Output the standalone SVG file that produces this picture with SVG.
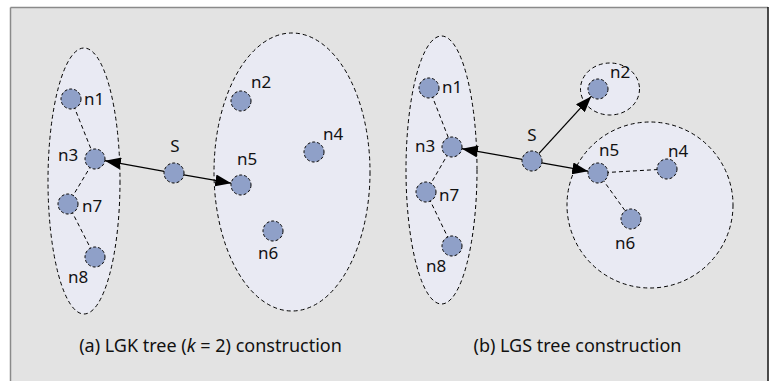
<svg xmlns="http://www.w3.org/2000/svg" width="773" height="381" viewBox="0 0 773 381">
<style>
.region{fill:#e9eaf3;stroke:#000;stroke-width:1;stroke-dasharray:4 3}
.node{fill:#8fa0c8;stroke:#000;stroke-width:1;stroke-dasharray:3 2}
.tree{stroke:#000;stroke-width:1;stroke-dasharray:4 3;fill:none}
.arrow{stroke:#000;stroke-width:1.3;fill:none;marker-end:url(#ah)}
text{font-family:"Noto Sans","Open Sans","DejaVu Sans",sans-serif;font-size:17px;fill:#111}
.cap{text-anchor:middle}
.caption{font-size:18px}
</style>
<defs>
<marker id="ah" markerUnits="userSpaceOnUse" markerWidth="17" markerHeight="12" refX="16" refY="6" orient="auto">
<path d="M0,0 L16,6 L0,12 z" fill="#000"/>
</marker>
</defs>
<rect x="0" y="0" width="773" height="381" fill="#fff"/>
<rect x="10.5" y="7.5" width="757" height="380" fill="#e3e3e3"/>
<line x1="10.5" y1="7.5" x2="768" y2="7.5" stroke="#8a8a8a" stroke-width="1.5"/>
<line x1="10.5" y1="7.5" x2="10.5" y2="381" stroke="#8a8a8a" stroke-width="1.5"/>
<line x1="768" y1="7" x2="768" y2="381" stroke="#111" stroke-width="1.5"/>

<g id="regions">
<ellipse id="rA1" class="region" cx="84" cy="181" rx="36" ry="133"/>
<ellipse id="rA2" class="region" cx="292" cy="172" rx="78" ry="139"/>
<ellipse id="rB1" class="region" cx="441.5" cy="170" rx="35.5" ry="134"/>
<ellipse id="rB2" class="region" cx="610" cy="89" rx="29.5" ry="26"/>
<circle id="rB3" class="region" cx="650" cy="205" r="83"/>
</g>

<g id="connectors">
<line class="tree" x1="71" y1="99" x2="95" y2="159"/>
<line class="tree" x1="95" y1="159" x2="68" y2="204"/>
<line class="tree" x1="68" y1="204" x2="95" y2="257"/>
<line class="arrow" x1="164.2" y1="171.3" x2="104.9" y2="160.7"/>
<line class="arrow" x1="183.8" y1="174.8" x2="231.2" y2="183.2"/>

<line class="tree" x1="429" y1="88" x2="452" y2="147"/>
<line class="tree" x1="452" y1="147" x2="426" y2="192"/>
<line class="tree" x1="426" y1="192" x2="452" y2="246"/>
<line class="tree" x1="598" y1="173" x2="667" y2="169"/>
<line class="tree" x1="598" y1="173" x2="631" y2="219"/>
<line class="arrow" x1="522.1" y1="159.3" x2="461.9" y2="148.7"/>
<line class="arrow" x1="538.8" y1="153.6" x2="591.2" y2="96.4"/>
<line class="arrow" x1="541.8" y1="162.8" x2="588.2" y2="171.2"/>
</g>

<g id="a-n1"><circle class="node" cx="71" cy="99" r="10"/><text x="84" y="105">n1</text></g>
<g id="a-n3"><circle class="node" cx="95" cy="159" r="10"/><text x="58" y="161">n3</text></g>
<g id="a-n7"><circle class="node" cx="68" cy="204" r="10"/><text x="82" y="212">n7</text></g>
<g id="a-n8"><circle class="node" cx="95" cy="257" r="10"/><text x="68" y="283">n8</text></g>
<g id="a-S"><circle class="node" cx="174" cy="173" r="10"/><text x="175" y="152" class="cap">S</text></g>
<g id="a-n2"><circle class="node" cx="241" cy="101" r="10"/><text x="251" y="88">n2</text></g>
<g id="a-n4"><circle class="node" cx="314" cy="152" r="10"/><text x="323" y="140">n4</text></g>
<g id="a-n5"><circle class="node" cx="241" cy="185" r="10"/><text x="237" y="165">n5</text></g>
<g id="a-n6"><circle class="node" cx="273" cy="231" r="10"/><text x="258" y="259">n6</text></g>

<g id="b-n1"><circle class="node" cx="429" cy="88" r="10"/><text x="442" y="93">n1</text></g>
<g id="b-n3"><circle class="node" cx="452" cy="147" r="10"/><text x="415" y="152">n3</text></g>
<g id="b-n7"><circle class="node" cx="426" cy="192" r="10"/><text x="439" y="201">n7</text></g>
<g id="b-n8"><circle class="node" cx="452" cy="246" r="10"/><text x="426" y="272">n8</text></g>
<g id="b-S"><circle class="node" cx="532" cy="161" r="10"/><text x="532" y="141" class="cap">S</text></g>
<g id="b-n2"><circle class="node" cx="598" cy="89" r="10"/><text x="610" y="78">n2</text></g>
<g id="b-n5"><circle class="node" cx="598" cy="173" r="10"/><text x="599" y="156">n5</text></g>
<g id="b-n4"><circle class="node" cx="667" cy="169" r="10"/><text x="668" y="157">n4</text></g>
<g id="b-n6"><circle class="node" cx="631" cy="219" r="10"/><text x="615" y="249">n6</text></g>

<g id="captions">
<text x="210.5" y="352" class="cap caption">(a) LGK tree (<tspan font-style="italic">k</tspan> = 2) construction</text>
<text x="577.5" y="352" class="cap caption">(b) LGS tree construction</text>
</g>
</svg>
